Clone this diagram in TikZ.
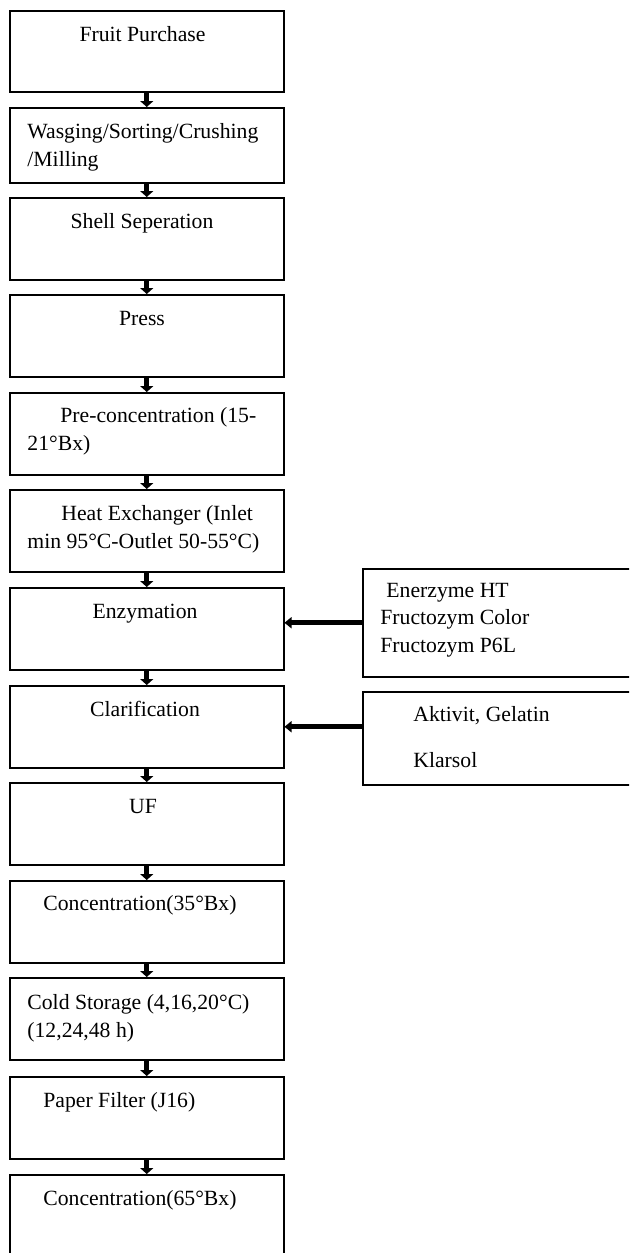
\documentclass[tikz,border=0pt]{standalone}
\usepackage{fontspec}
\setmainfont{Liberation Serif}
\usetikzlibrary{arrows.meta}
\begin{document}
\begin{tikzpicture}[x=0.5pt, y=-0.5pt,
  caja/.style={draw, line width=0.75pt, anchor=north west, minimum width=137pt, minimum height=41pt},
  texto/.style={inner sep=0pt, align=left, font=\fontsize{10.85pt}{13.75pt}\selectfont},
  flecha/.style={line width=2.5pt, -{Triangle[width=6.5pt, length=3pt]}},
  flechah/.style={line width=2.5pt, -{Triangle[width=5.5pt, length=3.5pt]}}]
  \clip (0,0) rectangle (629,1253);
  % cajas del proceso
  \node[caja, minimum height=40.5pt] (fruta) at (9,10) {};
  \node[caja, minimum height=37.5pt] (lavado) at (9,107) {};
  \node[caja] (cascara) at (9,197) {};
  \node[caja] (prensa) at (9,294) {};
  \node[caja] (precon) at (9,392) {};
  \node[caja] (calor) at (9,489) {};
  \node[caja] (enzima) at (9,587) {};
  \node[caja] (clarif) at (9,685) {};
  \node[caja] (uf) at (9,782) {};
  \node[caja] (conc) at (9,880) {};
  \node[caja] (frio) at (9,977) {};
  \node[caja] (filtro) at (9,1076) {};
  \node[caja, minimum height=45pt] (concfin) at (9,1174) {};
  % cajas de aditivos
  \node[caja, minimum width=140pt, minimum height=54pt] (enzimas) at (362,568) {};
  \node[caja, minimum width=140pt, minimum height=46.5pt] (aditivos) at (362,691) {};
  % textos (base = ultima linea)
  \node[texto, anchor=base] (t1) at (142.5,41) {Fruit Purchase};
  \node[texto, anchor=base west] (t2) at (27,166) {Wasging/Sorting/Crushing\\/Milling};
  \node[texto, anchor=base] (t3) at (142,228) {Shell Seperation};
  \node[texto, anchor=base] (t4) at (142,325) {Press};
  \node[texto, anchor=base west] (t5) at (27,450) {\hspace*{16.5pt}Pre-concentration (15-\\21°Bx)};
  \node[texto, anchor=base west] (t6) at (27,548) {\hspace*{17pt}Heat Exchanger (Inlet\\min 95°C-Outlet 50-55°C)};
  \node[texto, anchor=base] (t7) at (145,618) {Enzymation};
  \node[texto, anchor=base] (t8) at (145,716) {Clarification};
  \node[texto, anchor=base] (t9) at (143,813) {UF};
  \node[texto, anchor=base west] (t10) at (43,910) {Concentration(35°Bx)};
  \node[texto, anchor=base west] (t11) at (27,1037) {Cold Storage (4,16,20°C)\\(12,24,48 h)};
  \node[texto, anchor=base west] (t12) at (43,1107) {Paper Filter (J16)};
  \node[texto, anchor=base west] (t13) at (43,1205) {Concentration(65°Bx)};
  \node[texto, anchor=base west] (t14) at (380,652) {\hspace*{3pt}Enerzyme HT\\Fructozym Color\\Fructozym P6L};
  \node[texto, anchor=base west] (t15) at (413,767) {Aktivit, Gelatin\\[9.25pt]Klarsol};
  % flechas
  \draw[flecha] (fruta) -- (lavado);
  \draw[flecha] (lavado) -- (cascara);
  \draw[flecha] (cascara) -- (prensa);
  \draw[flecha] (prensa) -- (precon);
  \draw[flecha] (precon) -- (calor);
  \draw[flecha] (calor) -- (enzima);
  \draw[flecha] (enzima) -- (clarif);
  \draw[flecha] (clarif) -- (uf);
  \draw[flecha] (uf) -- (conc);
  \draw[flecha] (conc) -- (frio);
  \draw[flecha] (frio) -- (filtro);
  \draw[flecha] (filtro) -- (concfin);
  \draw[flechah] (enzimas.west) -- (enzimas.west -| enzima.east);
  \draw[flechah] (aditivos.west |- clarif.east) -- (clarif.east);
\end{tikzpicture}
\end{document}
